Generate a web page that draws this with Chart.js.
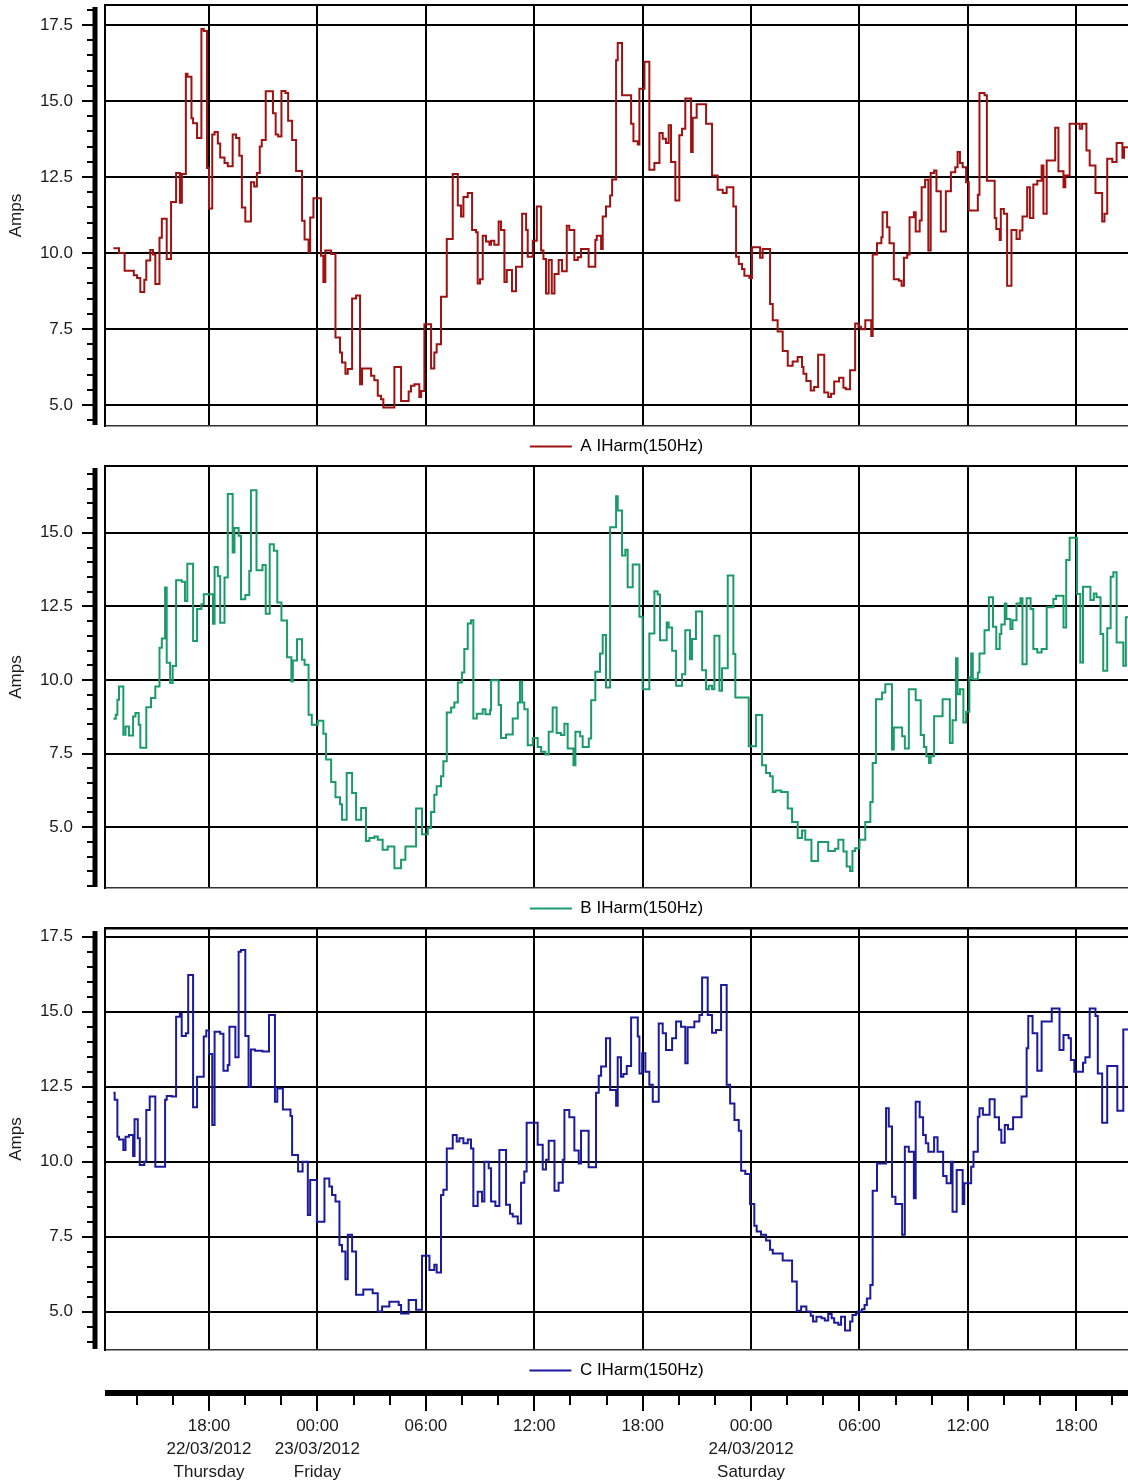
<!DOCTYPE html>
<html>
<head>
<meta charset="utf-8">
<script src="https://cdn.jsdelivr.net/npm/chart.js@4.4.1/dist/chart.umd.min.js"></script>
<style>
  html, body { margin: 0; padding: 0; background: #fff; }
  #wrap { position: relative; width: 1128px; height: 1483px; background: #fff; overflow: hidden; }
  canvas { position: absolute; left: 0; }
</style>
</head>
<body>
<div id="wrap">
  <canvas id="c1" width="1128" height="465" style="top:0px"></canvas>
  <canvas id="c2" width="1128" height="462" style="top:465px"></canvas>
  <canvas id="c3" width="1128" height="462" style="top:927px"></canvas>
  <canvas id="c4" width="1128" height="94" style="top:1389px"></canvas>
</div>
<script>
// ---- DATA (time in hours after 12:00 on 22/03/2012; value in Amps) ----
const seriesNames = ['A IHarm(150Hz)', 'B IHarm(150Hz)', 'C IHarm(150Hz)'];

const aTime = [0.71,1.02,1.33,1.84,2.02,2.20,2.42,2.53,2.75,2.90,3.03,3.26,3.39,3.66,3.90,4.18,4.39,4.50,4.72,4.81,5.03,5.12,5.34,5.58,5.71,5.89,6.00,6.18,6.31,6.49,6.62,6.86,7.04,7.31,7.50,7.68,7.82,8.01,8.32,8.50,8.65,8.81,8.92,9.14,9.54,9.69,9.83,10.01,10.23,10.38,10.60,10.82,11.15,11.29,11.51,11.60,11.78,12.20,12.33,12.44,12.76,13.00,13.25,13.36,13.55,13.68,13.92,14.14,14.36,14.47,14.97,15.15,15.34,15.52,15.65,16.26,16.63,17.05,17.18,17.37,17.64,17.74,17.92,18.29,18.47,18.60,18.84,19.16,19.49,19.77,19.95,20.08,20.32,20.56,20.78,20.87,21.00,21.15,21.33,21.52,21.61,21.79,22.03,22.16,22.35,22.48,22.77,22.99,23.33,23.55,23.64,23.92,24.14,24.38,24.51,24.65,24.80,24.97,25.12,25.35,25.54,25.80,25.94,26.22,26.41,26.59,27.01,27.38,27.46,27.70,27.79,27.97,28.20,28.31,28.53,28.62,28.86,29.36,29.49,29.73,29.82,30.10,30.37,30.65,30.93,31.11,31.29,31.44,31.57,31.81,32.03,32.18,32.36,32.68,32.77,32.99,33.51,33.84,34.15,34.43,34.65,35.02,35.17,35.32,35.50,35.63,35.91,36.05,36.50,36.64,37.05,37.20,37.47,37.75,38.03,38.30,38.58,38.82,38.90,39.06,39.30,39.49,39.71,40.05,40.27,40.42,40.60,40.87,41.11,41.24,41.48,41.76,41.94,42.09,42.32,42.65,42.73,42.97,43.21,43.28,43.53,43.66,43.90,44.18,44.33,44.46,44.64,44.77,45.01,45.11,45.33,45.44,45.63,45.81,45.94,46.13,46.26,46.50,46.78,47.06,47.30,47.43,47.56,47.71,47.90,48.05,48.55,48.64,48.92,49.05,49.48,49.57,49.76,49.82,49.99,50.17,50.41,50.69,50.87,51.02,51.28,51.43,51.62,51.84,52.08,52.18,52.36,52.83,53.01,53.29,53.39,53.63,54.19,54.32,54.56,54.74,55.06,55.43,55.56,55.71,55.99,56.23,56.55,56.64,57.00];
const aAmps = [10.16,10.0,9.42,9.27,9.18,8.72,9.12,9.75,10.1,9.95,8.98,10.5,11.13,9.8,11.68,12.63,11.65,12.6,15.9,15.8,14.43,14.27,13.78,17.37,17.3,12.8,11.46,13.9,13.98,13.6,13.14,12.96,12.85,13.9,13.78,13.2,11.5,11.04,12.33,12.19,12.63,13.5,13.72,15.32,14.6,13.9,13.83,15.33,15.26,14.35,13.72,12.7,11.06,10.44,10.03,11.17,11.8,9.91,9.05,10.08,9.97,7.22,6.73,6.4,6.03,6.18,8.5,8.6,5.68,6.2,5.96,5.81,5.3,5.19,4.92,6.25,5.13,5.44,5.63,5.68,5.26,5.46,7.66,6.2,6.73,7.0,8.56,10.46,12.6,11.56,11.2,11.84,11.97,10.76,10.68,9.0,9.14,10.57,10.38,10.27,10.4,10.27,11.04,10.76,9.05,9.44,8.74,9.55,11.29,10.76,9.88,10.4,11.53,10.08,9.8,8.67,9.77,8.67,9.31,9.77,9.4,10.9,10.76,9.77,9.86,10.13,9.55,10.43,10.57,10.13,11.2,11.53,11.89,12.42,16.34,16.91,15.19,14.25,13.68,13.57,15.4,16.29,12.74,12.96,13.95,13.76,13.62,14.2,12.99,11.73,13.87,14.09,15.08,13.32,14.45,14.89,14.25,12.55,12.08,11.97,12.16,11.53,9.88,9.64,9.47,9.25,9.18,10.19,9.84,10.13,8.32,7.79,7.42,6.78,6.29,6.43,6.58,6.25,6.03,5.79,5.48,5.59,6.65,5.41,5.26,5.37,5.77,5.9,5.57,5.52,6.14,7.68,7.57,7.49,7.79,7.27,9.95,10.32,10.52,11.34,10.85,10.32,9.14,9.09,8.92,9.84,9.95,11.18,11.34,10.71,11.07,12.16,12.41,10.08,12.63,12.71,12.03,10.71,12.03,12.66,12.82,13.32,12.96,12.82,12.33,11.4,11.92,15.26,15.19,12.38,11.15,10.79,10.43,11.45,11.29,8.92,10.76,10.46,10.74,11.2,12.16,11.15,12.25,12.38,12.88,11.29,13.04,14.12,12.69,12.16,12.55,14.25,14.09,14.25,13.37,12.88,11.97,11.04,11.29,13.1,12.99,13.62,13.13,13.48,13.48];

const bTime = [0.71,0.84,0.93,1.02,1.26,1.38,1.57,1.80,1.93,2.11,2.20,2.53,2.79,3.03,3.26,3.39,3.57,3.66,3.85,3.99,4.18,4.49,4.67,4.80,5.12,5.34,5.58,5.71,6.22,6.31,6.49,6.62,6.86,7.04,7.31,7.41,7.64,7.77,8.01,8.23,8.32,8.63,8.96,9.14,9.36,9.59,9.78,10.01,10.32,10.56,10.64,10.87,11.15,11.29,11.51,11.69,12.02,12.33,12.48,12.76,13.00,13.25,13.36,13.62,13.92,14.14,14.42,14.69,14.88,15.15,15.34,15.61,15.89,16.26,16.63,16.87,17.46,17.79,18.11,18.29,18.47,18.60,18.84,18.97,19.16,19.40,19.58,19.77,20.00,20.13,20.32,20.50,20.63,20.82,21.15,21.30,21.55,21.61,22.03,22.16,22.44,22.81,23.09,23.21,23.33,23.45,23.64,23.92,24.19,24.38,24.62,24.80,25.02,25.24,25.48,25.67,25.85,26.17,26.28,26.54,26.68,27.02,27.15,27.38,27.64,27.79,27.97,28.20,28.53,28.62,28.86,29.04,29.17,29.45,29.82,30.00,30.37,30.65,30.83,30.96,31.33,31.44,31.63,31.85,32.18,32.36,32.62,32.73,32.95,33.29,33.51,33.66,33.84,33.97,34.25,34.39,34.71,35.02,35.13,35.87,36.27,36.61,36.83,37.05,37.20,37.35,37.66,38.03,38.27,38.58,38.82,39.00,39.34,39.71,40.27,40.64,40.83,41.11,41.29,41.48,41.61,41.76,42.00,42.32,42.60,42.73,42.91,43.25,43.43,43.80,43.90,44.36,44.51,44.73,45.11,45.39,45.57,45.70,45.85,45.94,46.13,46.60,47.00,47.15,47.34,47.43,47.56,47.75,47.90,48.08,48.18,48.27,48.55,48.64,48.92,49.16,49.39,49.57,49.76,49.85,50.04,50.13,50.35,50.47,50.69,50.91,51.02,51.25,51.47,51.62,51.84,52.08,52.36,52.73,52.88,53.29,53.44,53.63,54.04,54.22,54.37,54.78,54.97,55.12,55.34,55.49,55.71,55.90,56.05,56.23,56.60,56.74,57.00];
const bAmps = [8.68,8.82,9.33,9.78,8.14,8.42,8.11,8.76,8.88,8.48,7.7,9.07,9.39,9.78,11.09,11.41,13.14,10.58,9.9,10.47,13.39,13.34,12.68,13.95,11.32,12.41,12.57,12.91,11.91,13.84,13.53,11.94,13.48,16.32,14.33,15.16,14.9,12.74,12.89,13.7,16.45,13.73,13.91,12.25,14.61,14.39,12.63,12.02,10.77,9.95,10.66,11.38,10.69,10.52,8.82,8.48,8.61,8.17,7.3,6.53,6.01,5.78,5.25,6.84,6.16,5.25,5.65,4.53,4.63,4.68,4.57,4.23,4.34,3.6,3.89,4.34,5.63,4.76,4.97,5.51,6.1,6.39,6.73,7.24,8.89,9.06,9.23,9.91,10.25,11.05,11.92,12.03,8.69,8.85,9.0,8.83,8.97,9.99,9.15,8.03,8.15,8.69,9.23,9.94,9.23,9.0,7.78,8.03,7.72,7.56,7.47,8.24,9.06,8.2,8.13,8.51,7.67,7.1,8.24,8.09,7.72,8.01,9.31,10.28,10.9,11.53,9.74,15.19,16.24,15.76,14.23,14.42,13.15,13.92,12.15,9.68,11.58,13.01,12.9,11.35,11.95,11.78,10.99,9.8,10.19,11.69,10.7,11.39,12.33,10.33,9.68,9.8,9.68,11.5,9.63,10.4,13.55,10.88,9.4,7.75,8.81,7.1,6.84,6.73,6.19,6.24,6.19,5.63,5.17,4.63,4.88,4.57,3.85,4.49,4.19,4.26,4.57,4.17,3.66,3.51,4.19,4.28,4.57,5.17,5.85,7.18,9.34,9.57,9.85,7.64,8.38,8.09,7.67,9.68,9.31,8.13,7.72,7.41,7.18,7.41,8.77,9.34,7.86,8.63,10.74,9.51,9.68,8.55,8.92,10.08,10.9,10.02,10.25,10.9,11.69,12.81,11.81,11.05,11.56,11.88,12.6,12.07,11.73,12.03,12.6,12.78,10.53,12.78,12.41,11.05,10.93,11.05,12.47,12.75,12.86,11.78,14.08,14.83,12.92,10.59,13.17,12.72,12.94,12.81,11.56,10.31,11.76,13.51,13.66,11.27,10.48,12.13,12.13];

const cTime = [0.71,0.78,0.93,1.02,1.26,1.38,1.57,1.80,1.88,2.06,2.17,2.42,2.53,2.72,3.03,3.57,3.66,3.94,4.18,4.39,4.49,4.72,4.85,5.12,5.34,5.71,5.85,6.00,6.18,6.31,6.62,6.80,7.04,7.13,7.46,7.64,7.77,8.01,8.19,8.32,8.55,8.96,9.32,9.65,9.78,10.09,10.51,10.60,10.93,11.18,11.47,11.60,11.97,12.39,12.66,12.81,13.00,13.22,13.36,13.55,13.68,13.92,14.14,14.54,15.06,15.34,15.58,15.98,16.50,16.63,17.05,17.46,17.79,18.20,18.47,18.60,18.84,18.97,19.16,19.49,19.71,19.86,20.08,20.32,20.50,20.63,20.87,21.11,21.24,21.48,21.61,21.85,22.07,22.44,22.66,22.81,23.09,23.27,23.45,23.58,24.19,24.47,24.65,24.80,25.12,25.35,25.58,25.67,25.94,26.22,26.46,26.59,27.01,27.42,27.57,27.70,27.97,28.20,28.53,28.62,28.80,28.93,29.12,29.36,29.73,29.82,29.97,30.15,30.37,30.56,30.89,31.11,31.29,31.63,31.85,32.12,32.36,32.49,32.86,33.14,33.29,33.60,33.84,34.06,34.34,34.65,34.84,35.08,35.32,35.45,35.68,35.94,36.18,36.31,36.55,36.83,37.05,37.20,37.75,38.27,38.53,38.77,39.06,39.30,39.43,39.62,39.90,40.08,40.27,40.46,40.60,40.83,40.98,41.20,41.48,41.61,41.80,41.91,42.13,42.28,42.41,42.60,42.73,42.97,43.47,43.62,43.80,43.99,44.36,44.51,44.73,45.01,45.11,45.33,45.52,45.67,45.81,46.13,46.32,46.63,46.82,47.06,47.15,47.38,47.71,47.80,48.18,48.31,48.55,48.64,48.83,49.20,49.48,49.72,49.85,50.04,50.22,50.50,50.97,51.25,51.34,51.58,51.84,52.08,52.64,53.07,53.29,53.57,53.70,53.89,54.37,54.50,54.74,55.06,55.19,55.43,55.71,56.27,56.60,57.00];
const cAmps = [12.3,12.06,10.83,10.74,10.39,10.83,10.89,10.19,11.41,10.78,9.89,10.0,11.72,12.17,9.83,12.06,12.19,12.17,14.83,14.94,14.19,14.28,16.22,11.81,12.83,14.17,14.37,13.59,11.22,14.33,14.26,13.03,13.22,14.5,13.48,17.0,17.06,14.19,12.5,13.74,13.7,13.67,14.89,12.0,12.44,11.74,11.52,10.22,9.67,10.0,8.22,9.39,8.0,9.44,9.17,8.89,8.67,7.22,7.0,6.08,7.56,7.0,5.56,5.74,5.61,5.0,5.17,5.33,5.22,4.94,5.39,5.06,6.86,6.39,6.56,6.3,8.89,9.06,10.44,10.89,10.67,10.78,10.61,10.74,10.44,8.52,9.0,8.67,10.0,9.78,8.67,8.52,10.39,8.56,8.26,8.17,7.94,9.3,9.67,11.3,10.56,9.74,10.06,10.7,9.03,9.3,10.06,11.72,11.48,10.37,9.94,11.03,9.81,12.3,12.86,13.17,14.11,12.39,11.86,13.48,12.83,12.92,13.19,14.81,14.17,12.94,13.61,13.0,12.56,12.0,14.61,14.28,13.72,14.11,14.67,14.5,13.28,14.48,14.67,14.89,16.14,14.89,14.3,14.39,15.89,12.56,11.94,11.39,11.03,9.7,9.59,8.59,7.86,7.67,7.56,7.37,7.06,6.94,6.7,6.0,5.03,5.17,5.0,4.86,4.67,4.83,4.78,4.7,4.92,4.78,4.63,4.56,4.83,4.37,4.67,4.89,4.94,5.0,5.08,5.22,5.44,5.89,9.03,9.94,11.78,11.17,8.83,8.59,7.56,10.5,10.33,8.78,12.0,11.48,10.89,10.61,10.33,10.81,10.33,9.52,9.28,10.0,8.33,9.72,8.59,9.28,9.83,10.33,11.5,11.78,11.56,12.08,11.48,11.06,10.63,11.22,11.08,11.48,12.17,13.78,14.86,14.28,13.03,14.67,15.11,13.72,14.22,14.11,13.39,13.0,13.3,13.48,15.11,14.86,12.94,11.3,13.19,11.7,14.41,14.41];

// bottom time axis labels
const axisLabelHours = [6, 12, 18, 24, 30, 36, 42, 48, 54];
const axisLabels = [
  ['18:00', '22/03/2012', 'Thursday'],
  ['00:00', '23/03/2012', 'Friday'],
  '06:00', '12:00', '18:00',
  ['00:00', '24/03/2012', 'Saturday'],
  '06:00', '12:00', '18:00'
];
const axisMinorStep = 2;   // hours between small ticks
const axisMajorStep = 6;   // hours between long ticks

// ---- STYLE ----
const X_MIN = 0.245, X_MAX = 56.86;
const FONT = "'Liberation Sans', Arial, Helvetica, sans-serif";
Chart.defaults.font.family = FONT;
Chart.defaults.font.size = 17;
Chart.defaults.color = '#1a1a1a';

const panelDecor = {
  id: 'panelDecor',
  afterDraw(chart, args, o) {
    const {ctx, chartArea: ca, scales: {y}} = chart;
    ctx.save();
    ctx.strokeStyle = '#000';
    // top frame line
    ctx.lineWidth = o.topWidth;
    ctx.beginPath();
    ctx.moveTo(ca.left - 1, ca.top);
    ctx.lineTo(ca.right, ca.top);
    ctx.stroke();
    // detached thick value axis
    const ax = ca.left - 10;
    ctx.lineWidth = 5;
    ctx.beginPath();
    ctx.moveTo(ax, ca.top + o.axisTopGap);
    ctx.lineTo(ax, ca.bottom - 1);
    ctx.stroke();
    ctx.lineWidth = 2;
    for (let v = o.tickMin; v <= o.tickMax + 1e-6; v += 0.5) {
      const py = Math.round(y.getPixelForValue(v));
      const major = Math.abs(v / 2.5 - Math.round(v / 2.5)) < 1e-6;
      ctx.beginPath();
      ctx.moveTo(ax - (major ? 13 : 8), py);
      ctx.lineTo(ax, py);
      ctx.stroke();
    }
    ctx.restore();
  }
};

function legendLabels(chart) {
  return Chart.defaults.plugins.legend.labels.generateLabels(chart).map(l => Object.assign(l, {lineWidth: 0}));
}

function panel(id, name, times, amps, color, yMin, yMax, tickMin, tickMax, padTop, topWidth, axisTopGap) {
  const pts = times.map((t, i) => ({x: t, y: amps[i]}));
  return new Chart(document.getElementById(id), {
    type: 'line',
    data: {
      datasets: [{
        label: name, data: pts, stepped: true,
        borderColor: color, backgroundColor: color,
        borderWidth: 2, pointRadius: 0, fill: false
      }]
    },
    options: {
      responsive: false, animation: false, events: [],
      layout: {padding: {top: padTop, left: 0, right: 0, bottom: 0}},
      scales: {
        x: {
          type: 'linear', min: X_MIN, max: X_MAX,
          ticks: {display: false, stepSize: 6, includeBounds: false},
          grid: {color: '#000', lineWidth: 2, drawTicks: false},
          border: {display: true, color: '#333', width: 1.5}
        },
        y: {
          min: yMin, max: yMax,
          ticks: {stepSize: 2.5, includeBounds: false, padding: 32, color: '#1a1a1a',
                  callback: v => Number(v).toFixed(1)},
          grid: {color: '#000', lineWidth: 2, drawTicks: false},
          border: {display: true, color: '#000', width: 2},
          title: {display: true, text: 'Amps', color: '#1a1a1a', padding: {top: 6, bottom: 0}},
          afterFit: s => { s.width = 105; s.paddingTop = 0; s.paddingBottom = 0; }
        }
      },
      plugins: {
        legend: {
          position: 'bottom', fullSize: false,
          labels: {boxWidth: 42, boxHeight: 2, padding: 12, color: '#000', generateLabels: legendLabels}
        },
        tooltip: {enabled: false},
        panelDecor: {tickMin, tickMax, topWidth, axisTopGap}
      }
    },
    plugins: [panelDecor]
  });
}

panel('c1', seriesNames[0], aTime, aAmps, '#9E1212', 4.309, 18.158, 4.5, 18.0, 5, 2, 2);
panel('c2', seriesNames[1], bTime, bAmps, '#1B9B69', 2.93, 17.27, 3.0, 17.0, 1, 2, 2);
panel('c3', seriesNames[2], cTime, cAmps, '#1B1B9B', 3.72, 17.79, 4.0, 17.5, 1, 3, 3);

// ---- bottom time axis ----
const axisDecor = {
  id: 'axisDecor',
  afterDraw(chart) {
    const {ctx, chartArea: ca, scales: {x}} = chart;
    const y0 = x.top;
    ctx.save();
    ctx.strokeStyle = '#000';
    ctx.lineWidth = 6;
    ctx.beginPath();
    ctx.moveTo(ca.left, y0);
    ctx.lineTo(ca.right, y0);
    ctx.stroke();
    ctx.lineWidth = 2;
    const first = Math.ceil(X_MIN / axisMinorStep) * axisMinorStep;
    for (let h = first; h <= X_MAX; h += axisMinorStep) {
      const px = Math.round(x.getPixelForValue(h));
      const major = h % axisMajorStep === 0;
      ctx.beginPath();
      ctx.moveTo(px, y0 + 3);
      ctx.lineTo(px, y0 + (major ? 18 : 12));
      ctx.stroke();
    }
    ctx.restore();
  }
};

new Chart(document.getElementById('c4'), {
  type: 'line',
  data: {datasets: []},
  options: {
    responsive: false, animation: false, events: [],
    layout: {padding: {top: 0, left: 105, right: 0, bottom: 0}},
    scales: {
      x: {
        type: 'linear', position: 'bottom', min: X_MIN, max: X_MAX,
        afterBuildTicks: s => { s.ticks = axisLabelHours.map(v => ({value: v})); },
        ticks: {autoSkip: false, maxRotation: 0, minRotation: 0, padding: 22, color: '#1a1a1a',
                font: {size: 17, lineHeight: 23 / 17},
                callback: (v, i) => axisLabels[i]},
        grid: {display: false, drawTicks: false},
        border: {display: false},
        afterFit: s => { s.height = 90; }
      },
      y: {display: false}
    },
    plugins: {legend: {display: false}, tooltip: {enabled: false}}
  },
  plugins: [axisDecor]
});
</script>
</body>
</html>
